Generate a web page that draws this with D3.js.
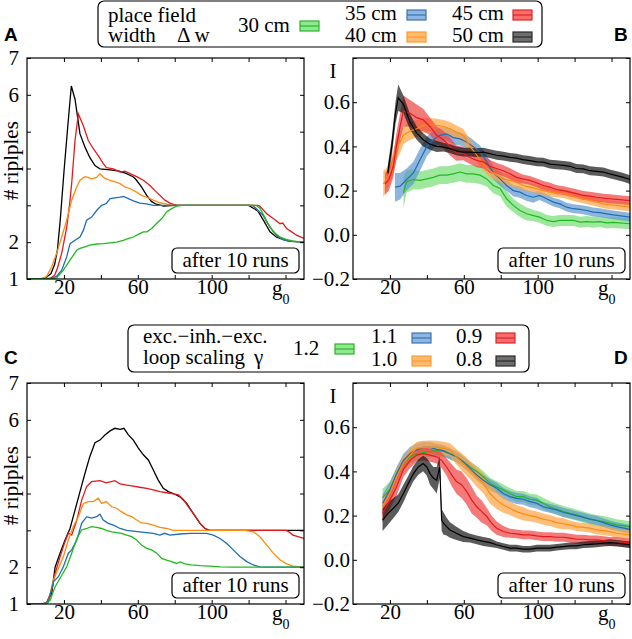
<!DOCTYPE html>
<html><head><meta charset="utf-8">
<script src="https://cdn.jsdelivr.net/npm/d3@7"></script>
<style>body{margin:0;background:#fff} svg{display:block}</style>
</head><body>
<svg id="c" width="632" height="639"></svg>
<script>
// ---------- tick definitions ----------
const xTicks = [20,40,60,80,100,120,140];
const xTickLabels = {20:"20",60:"60",100:"100"};
const ripTicks = [1,2,3,4,5,6,7];
const ripTickLabels = {1:"1",2:"2",6:"6",7:"7"};
const infoTicks = [-0.2,0,0.2,0.4,0.6,0.8];
const infoTickLabels = {"-0.2":"\u22120.2","0":"0.0","0.2":"0.2","0.4":"0.4","0.6":"0.6"};

// ---------- legend labels ----------
const widthLabels = ["30 cm","35 cm","40 cm","45 cm","50 cm"];
const gammaLabels = ["1.2","1.1","1.0","0.9","0.8"];

// ---------- Panel A: # ripples vs g0, place field width ----------
const A_30 = [[0,1],[12.5,1],[16,1.03],[19.7,1.24],[23.3,1.51],[26.9,1.78],[28.7,1.83],[31.4,1.87],[34,1.92],[37.7,1.95],[41.3,1.96],[45,1.98],[48.5,2.0],[52.2,2.05],[54.9,2.1],[57.6,2.14],[61,2.23],[63,2.28],[65,2.28],[67.5,2.37],[70,2.5],[73,2.64],[75.6,2.82],[78.3,2.91],[81,2.98],[84,3],[124,3],[126,2.93],[128,2.75],[129.8,2.55],[133.4,2.28],[137,2.14],[140,2.08],[144,2.03],[150,2.0]];
const A_35 = [[0,1],[12.5,1],[16,1.07],[18.8,1.24],[21.5,1.6],[23.3,1.96],[26,2.05],[28.7,2.14],[30.5,2.32],[32.3,2.6],[35,2.68],[37.7,2.86],[40.4,3.0],[43,3.05],[45,3.18],[47.6,3.2],[50.4,3.22],[52.2,3.24],[54.9,3.18],[57.6,3.12],[61,3.06],[64.8,3.04],[68.4,3.0],[122,3],[124,2.92],[128,2.72],[131.6,2.41],[135,2.19],[138.8,2.07],[142,2.02],[150,2.0]];
const A_40 = [[0,1],[8,1],[10.6,1.07],[13.4,1.33],[16,1.69],[18.8,2.14],[21.5,2.6],[24.2,3.14],[26.9,3.5],[28.7,3.68],[31.4,3.78],[33,3.76],[35,3.72],[37.7,3.76],[39.5,3.86],[42.2,3.73],[45,3.68],[47.6,3.64],[50.4,3.59],[53,3.5],[55.8,3.45],[59.4,3.36],[62,3.27],[64.8,3.22],[68.4,3.14],[72,3.07],[75.6,3.03],[79,3],[122,3],[124,2.91],[128,2.72],[131.6,2.41],[135,2.19],[138.8,2.07],[142,2.03],[150,2.0]];
const A_45 = [[0,1],[10,1],[12.5,1.02],[15,1.1],[16.5,1.3],[18.8,1.7],[21.5,2.4],[23,3.0],[24.2,3.6],[26,4.76],[27.8,5.48],[30.5,5.16],[33.2,4.76],[36,4.53],[38.6,4.35],[41.3,4.13],[43,4.02],[46.8,3.99],[50.4,3.9],[53,3.93],[55.8,3.86],[59.4,3.78],[63,3.68],[66.6,3.54],[69.3,3.4],[72,3.27],[74.7,3.14],[77.4,3.06],[81,3.0],[125,3],[126,2.98],[129.8,2.77],[133.4,2.64],[137,2.5],[138.5,2.52],[140.6,2.37],[143.3,2.28],[146,2.19],[150,2.1]];
const A_50 = [[0,1],[7,1],[10,1.03],[13,1.15],[15,1.4],[16.5,1.8],[18,2.6],[20,3.9],[22,5.1],[24,6.24],[26,5.88],[28.7,4.94],[31.4,4.58],[34,4.3],[36.8,4.08],[39.5,3.99],[45,3.96],[50,3.93],[54,3.86],[57.6,3.77],[59,3.7],[62,3.5],[64.8,3.27],[67.5,3.1],[70,3.03],[74,2.98],[80,3],[120,3],[122.6,2.92],[125,2.85],[128,2.6],[131.6,2.28],[135,2.14],[138.8,2.07],[142,2.03],[150,2.0]];

// ---------- Panel B: information I vs g0 [g0, mean, half band] ----------
const B_30 = [[27.3,0.19,0.07],[29,0.24,0.05],[32.7,0.25,0.045],[36.3,0.246,0.04],[40,0.253,0.04],[43.5,0.26,0.04],[47,0.27,0.04],[50.7,0.27,0.04],[54.3,0.276,0.04],[58,0.284,0.04],[61.5,0.276,0.04],[65,0.276,0.04],[68.8,0.27,0.04],[72.4,0.253,0.035],[76,0.223,0.035],[79.6,0.21,0.035],[83.2,0.163,0.035],[86.8,0.133,0.03],[90.4,0.11,0.03],[94,0.095,0.03],[97.7,0.087,0.025],[101,0.08,0.025],[105,0.065,0.025],[108.5,0.06,0.025],[112,0.065,0.025],[115.7,0.065,0.025],[119.3,0.065,0.025],[123,0.057,0.025],[126.5,0.06,0.025],[130,0.057,0.025],[133.8,0.06,0.025],[137.4,0.054,0.025],[141,0.056,0.025],[150,0.05,0.025]];
const B_35 = [[22.7,0.215,0.065],[25.5,0.22,0.06],[29,0.25,0.05],[32.7,0.28,0.05],[36.3,0.34,0.05],[40,0.40,0.045],[43.5,0.43,0.04],[47,0.45,0.035],[50.7,0.457,0.03],[54.3,0.44,0.03],[58,0.434,0.03],[61.5,0.42,0.03],[65,0.40,0.03],[68.8,0.374,0.03],[72.4,0.33,0.03],[76,0.28,0.03],[79.6,0.253,0.03],[83.2,0.223,0.025],[86.8,0.20,0.025],[90.4,0.193,0.025],[94,0.178,0.025],[97.7,0.17,0.025],[101,0.178,0.02],[104.9,0.163,0.02],[108.5,0.148,0.02],[112,0.14,0.02],[115.7,0.125,0.02],[119.3,0.118,0.02],[123,0.115,0.02],[126.5,0.11,0.02],[130,0.103,0.02],[133.8,0.10,0.02],[137.4,0.095,0.02],[141,0.09,0.02],[150,0.08,0.02]];
const B_40 = [[16.4,0.23,0.06],[18,0.25,0.05],[20,0.28,0.05],[21.8,0.33,0.05],[23.6,0.39,0.05],[25.5,0.42,0.05],[27.3,0.45,0.04],[30.9,0.47,0.04],[34.5,0.48,0.04],[38,0.495,0.035],[41.7,0.498,0.03],[45.3,0.495,0.03],[49,0.49,0.03],[52.5,0.48,0.03],[56,0.465,0.03],[59.7,0.45,0.03],[63.4,0.40,0.03],[67,0.36,0.03],[70.6,0.32,0.03],[74,0.29,0.03],[77.8,0.27,0.025],[81.4,0.253,0.025],[85,0.246,0.025],[88.6,0.238,0.025],[92,0.223,0.02],[95.8,0.216,0.02],[99.5,0.208,0.02],[103,0.20,0.02],[106.7,0.193,0.02],[110,0.19,0.02],[114,0.186,0.02],[117.5,0.178,0.02],[121,0.17,0.02],[124.7,0.163,0.02],[128.3,0.155,0.02],[132,0.148,0.02],[135.6,0.14,0.02],[139,0.136,0.02],[142.8,0.133,0.02],[150,0.125,0.02]];
const B_45 = [[17.3,0.23,0.05],[19.5,0.25,0.05],[21.8,0.31,0.05],[23.5,0.40,0.06],[25.5,0.49,0.06],[27.3,0.56,0.07],[30.9,0.55,0.06],[34.5,0.53,0.06],[38,0.52,0.05],[41.7,0.49,0.04],[45.3,0.45,0.04],[49,0.43,0.04],[52.5,0.40,0.04],[56,0.37,0.035],[59.7,0.367,0.03],[63.4,0.35,0.03],[67,0.336,0.03],[70.6,0.33,0.03],[74,0.31,0.03],[77.8,0.30,0.025],[81.4,0.29,0.025],[85,0.276,0.025],[88.6,0.26,0.025],[92,0.253,0.02],[95.8,0.246,0.02],[99.5,0.235,0.02],[103,0.223,0.02],[106.7,0.216,0.02],[110,0.205,0.02],[114,0.20,0.02],[117.5,0.193,0.02],[121,0.186,0.02],[124.7,0.178,0.02],[128.3,0.175,0.02],[132,0.17,0.02],[135.6,0.166,0.02],[139,0.163,0.02],[142.8,0.16,0.02],[150,0.155,0.02]];
const B_50 = [[18.8,0.28,0.03],[21,0.40,0.04],[23,0.55,0.05],[24.5,0.62,0.06],[27.3,0.59,0.04],[30.9,0.51,0.035],[34.5,0.46,0.03],[38,0.43,0.03],[41.7,0.41,0.025],[45.3,0.40,0.025],[49,0.397,0.02],[52.5,0.39,0.02],[56,0.38,0.02],[59.7,0.374,0.02],[63.4,0.374,0.02],[67,0.372,0.02],[70.6,0.374,0.02],[74,0.367,0.02],[77.8,0.36,0.02],[81.4,0.356,0.02],[85,0.35,0.02],[88.6,0.347,0.02],[92,0.34,0.02],[95.8,0.336,0.02],[99.5,0.33,0.02],[103,0.329,0.02],[106.7,0.32,0.02],[110,0.317,0.02],[114,0.314,0.02],[117.5,0.31,0.02],[121,0.30,0.02],[124.7,0.298,0.02],[128.3,0.29,0.02],[132,0.287,0.02],[135.6,0.284,0.02],[139,0.276,0.02],[142.8,0.268,0.02],[146.4,0.26,0.02],[150,0.25,0.02]];

// ---------- Panel C: # ripples vs g0, loop scaling ----------
const C_12 = [[0,1],[10,1],[12.5,1.1],[15.2,1.47],[17.9,1.7],[21.5,2.01],[24.2,2.38],[27,2.78],[29.6,3.01],[32.3,3.05],[35,3.1],[37.7,3.08],[40.4,3.05],[43,3.0],[45.8,2.96],[48.5,2.94],[51.3,2.92],[54,2.87],[56.7,2.83],[59.4,2.74],[62,2.6],[64.8,2.51],[67.5,2.47],[70.2,2.38],[72.9,2.24],[75.6,2.19],[78.3,2.15],[81,2.1],[82.9,2.14],[85.6,2.09],[89,2.06],[93.7,2.04],[99,2.03],[104.5,2.01],[111.7,2.0],[150,2.0]];
const C_11 = [[0,1],[9,1],[11.5,1.05],[14.3,1.6],[17,1.74],[19.7,2.01],[22.4,2.38],[24.2,2.47],[27,2.74],[29.6,3.19],[32.3,3.37],[35,3.33],[37.7,3.37],[39.5,3.44],[41.3,3.28],[44,3.19],[46.8,3.14],[50.4,3.05],[54,3.0],[57.6,2.98],[61,2.96],[64.8,2.94],[68.4,2.92],[72,2.87],[74.5,2.92],[77.4,2.87],[82.9,2.9],[88.3,2.92],[93.7,2.92],[97.3,2.92],[100.9,2.87],[104.5,2.78],[108,2.65],[111.7,2.47],[115.3,2.29],[119,2.15],[122.6,2.06],[126,2.01],[129.8,2.0],[150,2.0]];
const C_10 = [[0,1],[9,1],[11.5,1.05],[14.3,1.65],[17,1.97],[19.7,2.28],[22.4,2.74],[25,3.1],[27.8,3.37],[30.5,3.73],[33.2,3.78],[36,3.78],[38.6,3.87],[40.4,3.73],[43,3.78],[45.8,3.64],[48.5,3.6],[51.3,3.5],[54,3.42],[56.7,3.37],[59.4,3.28],[62,3.2],[64.8,3.19],[68.4,3.14],[72,3.08],[75.6,3.05],[79.2,3.0],[118,3.0],[122.6,2.96],[126,2.83],[129.8,2.6],[133.4,2.38],[137,2.2],[140.6,2.09],[144,2.03],[150,2.0]];
const C_09 = [[0,1],[8,1],[10.6,1.03],[13.4,1.38],[15.2,1.83],[17.9,2.28],[20.6,2.7],[22.4,2.92],[24.2,2.87],[27,3.28],[29.6,3.82],[32.3,4.19],[35,4.32],[39.5,4.35],[43,4.29],[47.6,4.35],[50.4,4.26],[54,4.23],[57.6,4.2],[61,4.17],[64.8,4.14],[68.4,4.1],[72,4.05],[75.6,4.02],[79.2,3.99],[82,3.96],[84.7,3.84],[87.4,3.64],[90,3.46],[93.7,3.19],[96.4,3.05],[99,3.0],[140,3.0],[141.5,2.97],[144,2.87],[150,2.78]];
const C_08 = [[0,1],[8,1],[10.6,1.03],[13.4,1.29],[15.2,2.0],[17.9,2.38],[20.6,2.74],[23.3,3.05],[26,3.55],[28.7,4.05],[31.4,4.55],[34,5.0],[36.8,5.38],[39.5,5.45],[42.2,5.59],[45,5.7],[47.6,5.77],[50.4,5.74],[52.5,5.77],[54.9,5.59],[57.6,5.45],[60.3,5.23],[63,5.05],[65.7,4.91],[68.4,4.64],[71,4.37],[73.8,4.14],[76.5,4.05],[79.2,4.0],[82.9,3.91],[86.5,3.73],[90,3.46],[93.7,3.19],[96.4,3.05],[99,3.0],[150,3.0]];

// ---------- Panel D: information I vs g0 [g0, mean, half band] ----------
const D_12 = [[16,0.28,0.04],[20,0.32,0.035],[23.6,0.384,0.03],[27.3,0.436,0.03],[30.9,0.466,0.03],[34.5,0.48,0.03],[38,0.485,0.025],[41.7,0.49,0.025],[45.3,0.494,0.025],[49,0.49,0.025],[52.5,0.48,0.025],[56,0.466,0.025],[59.7,0.444,0.025],[63.4,0.42,0.025],[67,0.40,0.025],[70.6,0.376,0.025],[74.2,0.346,0.025],[77.8,0.33,0.025],[81.4,0.316,0.025],[85,0.30,0.025],[88.6,0.286,0.025],[92.2,0.286,0.025],[95.8,0.274,0.025],[99.5,0.27,0.025],[103,0.256,0.025],[106.7,0.24,0.025],[110.3,0.229,0.025],[114,0.218,0.025],[117.5,0.21,0.025],[121,0.203,0.025],[124.7,0.193,0.025],[128.3,0.184,0.025],[132,0.178,0.025],[135.6,0.173,0.025],[139,0.166,0.025],[142.8,0.158,0.025],[150,0.15,0.025]];
const D_11 = [[16,0.256,0.04],[20,0.316,0.035],[23.6,0.39,0.03],[27.3,0.45,0.03],[30.9,0.48,0.03],[34.5,0.497,0.03],[38,0.509,0.025],[41.7,0.509,0.025],[45.3,0.50,0.025],[49,0.494,0.025],[52.5,0.48,0.025],[56,0.466,0.025],[59.7,0.444,0.025],[63.4,0.414,0.025],[67,0.384,0.025],[70.6,0.36,0.025],[74.2,0.34,0.025],[77.8,0.324,0.025],[81.4,0.30,0.025],[85,0.286,0.025],[88.6,0.278,0.025],[92.2,0.274,0.025],[95.8,0.263,0.025],[99.5,0.256,0.025],[103,0.24,0.02],[106.7,0.233,0.02],[110.3,0.226,0.02],[114,0.214,0.02],[117.5,0.208,0.02],[121,0.20,0.02],[124.7,0.193,0.02],[128.3,0.184,0.02],[132,0.178,0.02],[135.6,0.168,0.02],[139,0.158,0.02],[142.8,0.15,0.02],[150,0.138,0.02]];
const D_10 = [[16,0.24,0.04],[20,0.30,0.035],[23.6,0.376,0.035],[27.3,0.436,0.03],[30.9,0.474,0.03],[34.5,0.504,0.03],[38,0.509,0.03],[41.7,0.51,0.03],[45.3,0.509,0.03],[49,0.504,0.03],[52.5,0.497,0.03],[56,0.466,0.035],[59.7,0.436,0.04],[63.4,0.406,0.04],[67,0.376,0.045],[70.6,0.346,0.045],[74.2,0.30,0.045],[77.8,0.27,0.04],[81.4,0.248,0.035],[85,0.233,0.03],[88.6,0.218,0.03],[92.2,0.208,0.03],[95.8,0.20,0.025],[99.5,0.193,0.025],[103,0.184,0.025],[106.7,0.178,0.025],[110.3,0.168,0.025],[114,0.163,0.025],[117.5,0.158,0.02],[121,0.15,0.02],[124.7,0.147,0.02],[128.3,0.143,0.02],[132,0.135,0.02],[135.6,0.132,0.02],[139,0.128,0.02],[142.8,0.12,0.02],[150,0.113,0.02]];
const D_09 = [[16,0.21,0.04],[20,0.27,0.04],[23.6,0.33,0.04],[27.3,0.41,0.035],[30.9,0.45,0.035],[34.5,0.474,0.03],[38,0.48,0.03],[41.7,0.474,0.03],[45.3,0.466,0.03],[48,0.45,0.035],[50.7,0.42,0.04],[53.4,0.384,0.05],[56,0.354,0.055],[58.8,0.34,0.06],[61.5,0.31,0.06],[64.3,0.27,0.06],[67,0.24,0.05],[69.7,0.218,0.05],[72.4,0.196,0.04],[75,0.166,0.035],[77.8,0.143,0.03],[81.4,0.128,0.025],[85,0.12,0.02],[88.6,0.117,0.02],[92.2,0.113,0.02],[95.8,0.113,0.02],[99.5,0.108,0.02],[103,0.105,0.02],[106.7,0.105,0.02],[110.3,0.102,0.02],[114,0.102,0.02],[117.5,0.098,0.02],[121,0.093,0.02],[124.7,0.093,0.02],[128.3,0.09,0.02],[132,0.09,0.02],[135.6,0.087,0.02],[139,0.083,0.02],[142.8,0.083,0.02],[150,0.075,0.02]];
const D_08 = [[16,0.18,0.05],[19,0.21,0.05],[21.8,0.233,0.045],[24.5,0.256,0.04],[27.3,0.30,0.04],[30,0.346,0.035],[32.7,0.39,0.035],[35.4,0.42,0.035],[38,0.436,0.035],[40,0.42,0.04],[41.7,0.39,0.05],[43.5,0.37,0.05],[45.3,0.36,0.06],[47,0.42,0.05],[48,0.18,0.05],[49,0.165,0.05],[50.7,0.15,0.04],[52.5,0.135,0.035],[56,0.12,0.03],[59.7,0.105,0.025],[63.4,0.098,0.02],[67,0.09,0.02],[70.6,0.083,0.02],[74.2,0.078,0.02],[77.8,0.068,0.015],[81.4,0.06,0.015],[85,0.053,0.015],[88.6,0.053,0.015],[92.2,0.048,0.015],[95.8,0.048,0.015],[99.5,0.053,0.015],[103,0.053,0.015],[106.7,0.053,0.015],[110.3,0.057,0.015],[114,0.06,0.015],[117.5,0.063,0.015],[121,0.063,0.015],[124.7,0.068,0.015],[128.3,0.07,0.015],[132,0.072,0.015],[135.6,0.075,0.015],[139,0.078,0.015],[142.8,0.075,0.015],[150,0.068,0.015]];

// ---------- styles ----------
const lineColors = ["#22b822","#1f6db5","#ff8a10","#e31a1c","#000000"];
const bandColors = ["#73de73","#5e97ce","#ffa241","#ef4141","#161616"];
const swFill = ["#8eea8e","#8db6e0","#ffbb70","#ff6a6a","#6e6e6e"];
const swStroke = ["#2faf2f","#3a74b2","#ff9a30","#d42a2a","#2a2a2a"];
const SERIF = '"Liberation Serif"';
const SANS = '"Liberation Sans"';

const svg = d3.select("#c");

const panels = [
  {id:"A", type:"rip", x0:27, x1:304, y0:58, y1:279, series:[A_30,A_35,A_40,A_45,A_50], lx:4, ly:41},
  {id:"B", type:"info", x0:353, x1:630, y0:58, y1:279, series:[B_30,B_35,B_40,B_45,B_50], lx:614, ly:41},
  {id:"C", type:"rip", x0:27, x1:304, y0:383, y1:604, series:[C_12,C_11,C_10,C_09,C_08], lx:4, ly:364},
  {id:"D", type:"info", x0:353, x1:630, y0:383, y1:604, series:[D_12,D_11,D_10,D_09,D_08], lx:614, ly:364}
];

function serifText(sel, size){
  return sel.style("font-family",SERIF).style("font-size",size+"px");
}
function styleAxis(g){
  g.attr("font-family",null).attr("font-size",null);
  g.select(".domain").remove();
  g.selectAll(".tick line").attr("stroke","#000").attr("stroke-width",1);
  serifText(g.selectAll(".tick text"),21).attr("fill","#000");
}

panels.forEach(p=>{
  const x = d3.scaleLinear().domain([0,150]).range([p.x0,p.x1]);
  const y = p.type==="rip" ? d3.scaleLinear().domain([1,7]).range([p.y1,p.y0])
                           : d3.scaleLinear().domain([-0.2,0.8]).range([p.y1,p.y0]);
  const g = svg.append("g");
  const clipId = "clip"+p.id;
  svg.append("clipPath").attr("id",clipId).append("rect")
     .attr("x",p.x0).attr("y",p.y0).attr("width",p.x1-p.x0).attr("height",p.y1-p.y0);
  const plot = g.append("g").attr("clip-path",`url(#${clipId})`);

  const line = d3.line().x(d=>x(d[0])).y(d=>y(d[1]));
  if(p.type==="info"){
    const area = d3.area().x(d=>x(d[0])).y0(d=>y(d[1]-d[2])).y1(d=>y(d[1]+d[2]));
    p.series.forEach((s,i)=>{
      plot.append("path").attr("d",area(s)).attr("fill",bandColors[i]).attr("fill-opacity",0.7).attr("stroke","none");
    });
    p.series.forEach((s,i)=>{
      plot.append("path").attr("d",line(s)).attr("fill","none").attr("stroke",lineColors[i]).attr("stroke-width",1.2);
    });
  } else {
    [4,3,2,1,0].forEach(i=>{
      plot.append("path").attr("d",line(p.series[i])).attr("fill","none").attr("stroke",lineColors[i]).attr("stroke-width",1.3);
    });
  }

  // axes (inward ticks)
  g.append("g").attr("transform",`translate(0,${p.y1})`)
   .call(d3.axisBottom(x).tickValues(xTicks).tickSize(-4).tickPadding(0).tickFormat(d=>xTickLabels[d]||""))
   .call(styleAxis);
  g.append("g").attr("transform",`translate(0,${p.y0})`)
   .call(d3.axisTop(x).tickValues(xTicks).tickSize(-4).tickFormat(""))
   .call(styleAxis);
  const yt = p.type==="rip" ? ripTicks : infoTicks;
  const yl = p.type==="rip" ? (d=>ripTickLabels[d]||"") : (d=>infoTickLabels[String(Math.round(d*10)/10)]||"");
  g.append("g").attr("transform",`translate(${p.x0},0)`)
   .call(d3.axisLeft(y).tickValues(yt).tickSize(-4).tickPadding(p.type==="rip"?8:3).tickFormat(yl))
   .call(styleAxis);
  g.append("g").attr("transform",`translate(${p.x1},0)`)
   .call(d3.axisRight(y).tickValues(yt).tickSize(-4).tickFormat(""))
   .call(styleAxis);

  // frame
  g.append("rect").attr("x",p.x0).attr("y",p.y0).attr("width",p.x1-p.x0).attr("height",p.y1-p.y0)
   .attr("fill","none").attr("stroke","#000").attr("stroke-width",1.2);

  // g0 label
  const gl = serifText(g.append("text").attr("x",p.x0+245).attr("y",p.y1+16),21);
  gl.append("tspan").text("g");
  gl.append("tspan").style("font-size","14px").attr("dy",9).text("0");

  // y label
  if(p.type==="rip"){
    serifText(g.append("text").attr("transform",`translate(18,${(p.y0+p.y1)/2-8}) rotate(-90)`)
     .attr("text-anchor","middle"),21).text("# riplples");
  } else {
    serifText(g.append("text").attr("x",333).attr("y",p.y0+20).attr("text-anchor","middle"),21).text("I");
  }

  // "after 10 runs" box
  const bw=127,bh=25,bx=p.x1-5-bw,by=p.y1-6-bh;
  g.append("rect").attr("x",bx).attr("y",by).attr("width",bw).attr("height",bh).attr("rx",5)
   .attr("fill","#fff").attr("stroke","#000").attr("stroke-width",1.2);
  serifText(g.append("text").attr("x",bx+bw/2).attr("y",by+19).attr("text-anchor","middle"),21).text("after 10 runs");

  // panel letter
  svg.append("text").attr("x",p.lx).attr("y",p.ly).style("font-family",SANS).style("font-weight","bold")
   .style("font-size","19px").text(p.id);
});

// ---------- legends ----------
function swatch(x,y,i){
  svg.append("rect").attr("x",x).attr("y",y).attr("width",19).attr("height",10)
     .attr("fill",swFill[i]).attr("stroke",swStroke[i]).attr("stroke-width",1.2);
  svg.append("line").attr("x1",x).attr("x2",x+19).attr("y1",y+5).attr("y2",y+5)
     .attr("stroke",swStroke[i]).attr("stroke-width",1.2);
}
function txt(x,y,s){
  return serifText(svg.append("text").attr("x",x).attr("y",y),21).text(s);
}
function legend(o){
  svg.append("rect").attr("x",o.bx).attr("y",o.by).attr("width",o.bw).attr("height",o.bh).attr("rx",6)
     .attr("fill","#fff").attr("stroke","#000").attr("stroke-width",1.2);
  txt(o.tx,o.r1l,o.title1);
  txt(o.tx,o.r2l,o.title2a);
  txt(o.t2bx,o.r2l,o.title2b);
  const labs=o.labels;
  txt(o.c0x,o.midl,labs[0]); swatch(o.s0x,o.midl-11,0);
  txt(o.c1x,o.r1,labs[1]); swatch(o.s1x,o.r1-10,1);
  txt(o.c1x,o.r2,labs[2]); swatch(o.s1x,o.r2-10,2);
  txt(o.c2x,o.r1,labs[3]); swatch(o.s2x,o.r1-10,3);
  txt(o.c2x,o.r2,labs[4]); swatch(o.s2x,o.r2-10,4);
}
legend({bx:98,by:1,bw:444,bh:46,tx:108,r1l:22,r2l:42,title1:"place field",title2a:"width",t2bx:177,title2b:"\u0394 w",
  labels:widthLabels,c0x:238,midl:32,s0x:300,c1x:345,s1x:407,c2x:452,s2x:513,r1:20,r2:42});
legend({bx:128,by:325,bw:401,bh:47,tx:143,r1l:343,r2l:364,title1:"exc.\u2212inh.\u2212exc.",title2a:"loop scaling",t2bx:254,title2b:"\u03b3",
  labels:gammaLabels,c0x:293,midl:355,s0x:335,c1x:371,s1x:412,c2x:456,s2x:496,r1:343,r2:366});
</script>
</body></html>
